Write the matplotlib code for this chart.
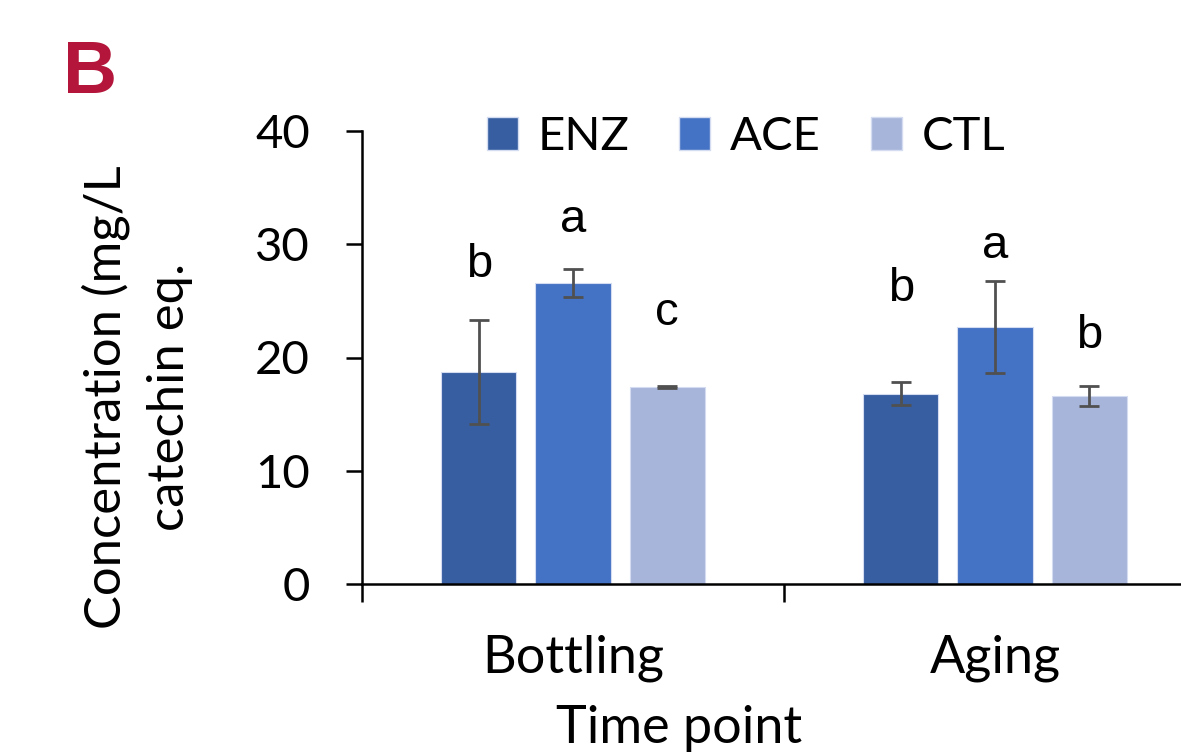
import matplotlib.pyplot as plt
from matplotlib.patches import Patch
import numpy as np

# mean concentration and error per treatment
timepoints = ['Bottling', 'Aging']
treatments = ['ENZ', 'ACE', 'CTL']
means = {'ENZ': [18.7, 16.8], 'ACE': [26.6, 22.7], 'CTL': [17.4, 16.6]}
errs = {'ENZ': [4.6, 1.0], 'ACE': [1.25, 4.05], 'CTL': [0.1, 0.85]}
letters = {'ENZ': ['b', 'b'], 'ACE': ['a', 'a'], 'CTL': ['c', 'b']}
letter_y = {'ENZ': [27.1, 25.0], 'ACE': [31.1, 28.8], 'CTL': [22.9, 20.8]}

colors = {'ENZ': '#365EA1', 'ACE': '#4472C4', 'CTL': '#A8B5DA'}
txt_font = ['Lato', 'DejaVu Sans']

fig = plt.figure(figsize=(11.81, 7.52), dpi=100)
ax = fig.add_axes([362/1181, 168/752, 844/1181, 453/752])

x = np.arange(len(timepoints))
width = 0.178
offsets = [-0.223, 0, 0.223]
for off, t in zip(offsets, treatments):
    ax.bar(x + off, means[t], width, color=colors[t], edgecolor='#D3DCF0', linewidth=0.8, zorder=2)
    ax.errorbar(x + off, means[t], yerr=errs[t], fmt='none', ecolor='#505050',
                elinewidth=2.0, capsize=7.5, capthick=2.0, zorder=3)
    for xi, lab, ly in zip(x + off, letters[t], letter_y[t]):
        ax.text(xi, ly, lab, ha='center', va='baseline', fontsize=34,
                family='Liberation Sans', color='black')

ax.set_xlim(-0.5, 1.5)
ax.set_ylim(0, 40)
ax.set_yticks([0, 10, 20, 30, 40])
ax.set_xticks(x)
ax.set_xticklabels(timepoints)
ax.set_xticks([-0.5, 0.5, 1.5], minor=True)
ax.tick_params(axis='x', which='major', length=0, pad=36, labelsize=37.5)
ax.tick_params(axis='x', which='minor', length=13, width=1.8, direction='out')
ax.tick_params(axis='y', length=11.5, width=1.8, pad=26, labelsize=34)
for lab in ax.get_xticklabels() + ax.get_yticklabels():
    lab.set_family(txt_font)

for s in ['top', 'right']:
    ax.spines[s].set_visible(False)
for s in ['left', 'bottom']:
    ax.spines[s].set_linewidth(1.8)

handles = [Patch(facecolor=colors[t], edgecolor='#D3DCF0', label=t) for t in treatments]
fig.legend(handles=handles, loc='center', bbox_to_anchor=(746/1181, 1 - 137/752),
           ncol=3, frameon=False, prop={'family': txt_font, 'size': 34},
           handlelength=0.66, handleheight=0.68, handletextpad=0.42, columnspacing=1.05)

fig.text(137/1181, 1 - 397/752, 'Concentration (mg/L\ncatechin eq.', rotation=90,
         ha='center', va='center', multialignment='center', fontsize=36.5,
         family=txt_font, linespacing=1.45)
fig.text(679/1181, 1 - 743/752, 'Time point', ha='center', va='baseline',
         fontsize=37.5, family=txt_font)
fig.text(63/1181, 1 - 93/752, 'B', ha='left', va='baseline', fontsize=54,
         fontweight='bold', family='Liberation Sans', color='#B3163A')

fig.savefig('out.png', dpi=100)
